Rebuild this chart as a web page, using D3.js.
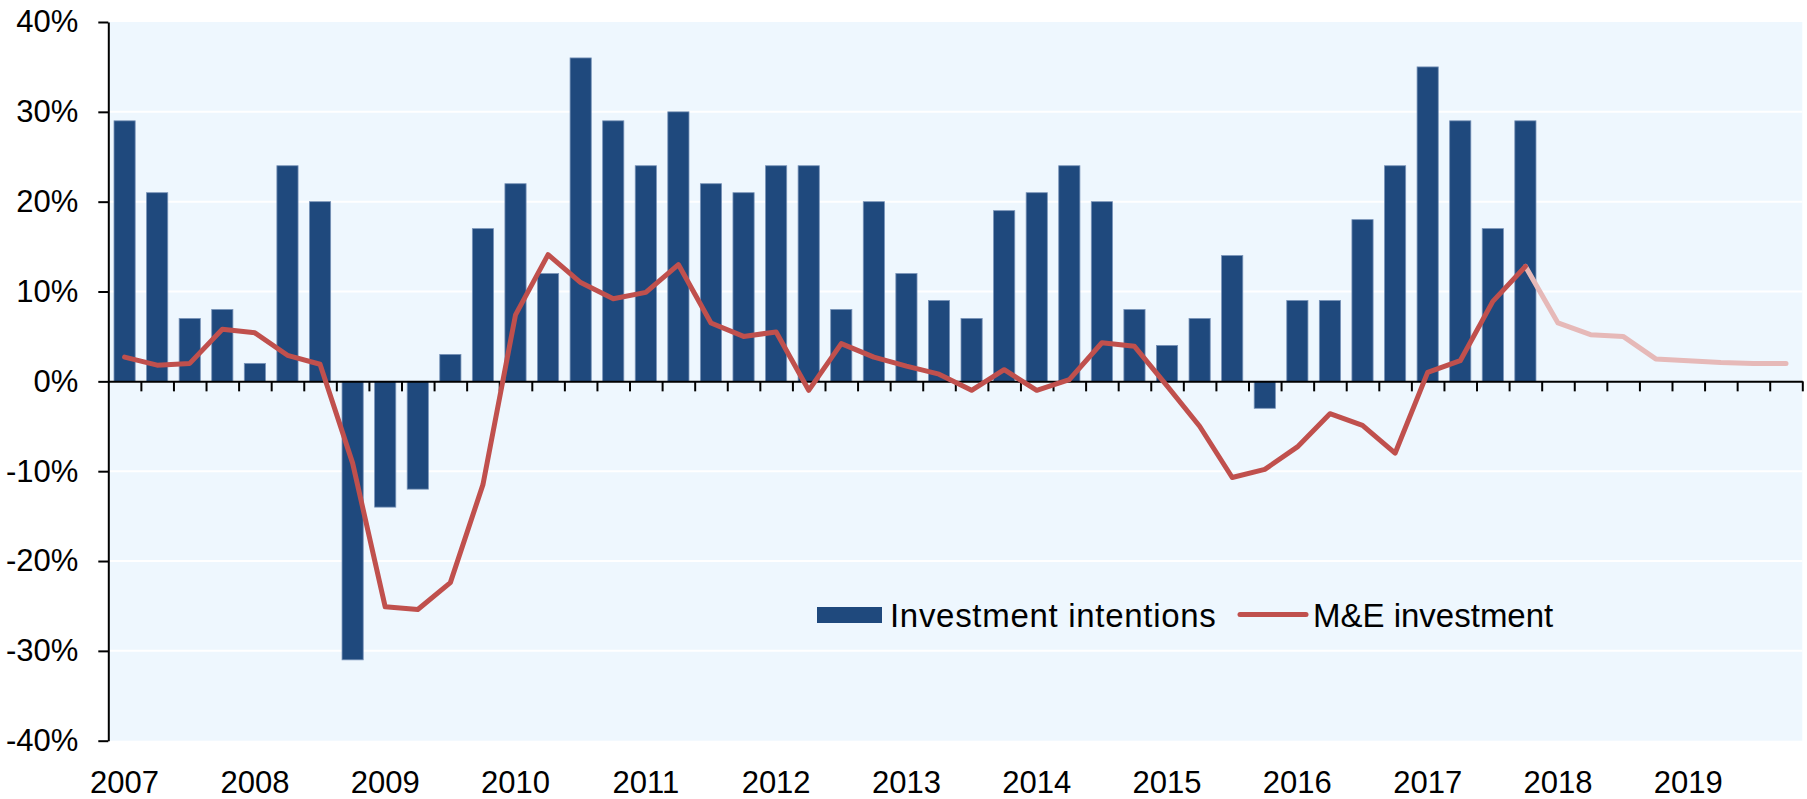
<!DOCTYPE html>
<html>
<head>
<meta charset="utf-8">
<script src="https://cdn.jsdelivr.net/npm/d3@7"></script>
<style>
  body { margin: 0; background: #fff; }
  text { font-family: "Liberation Sans", Arial, sans-serif; fill: #000; }
</style>
</head>
<body>
<div id="chart"></div>
<script>
// quarterly data, 2007Q1 .. 2019Q4
const years = d3.range(2007, 2020);
const quarters = years.flatMap(y => [1, 2, 3, 4].map(q => y + "Q" + q));

// investment intentions (bars), 2007Q1 .. 2017Q4
const intentions = [
  29, 21, 7, 8,
  2, 24, 20, -31,
  -14, -12, 3, 17,
  22, 12, 36, 29,
  24, 30, 22, 21,
  24, 24, 8, 20,
  12, 9, 7, 19,
  21, 24, 20, 8,
  4, 7, 14, -3,
  9, 9, 18, 24,
  35, 29, 17, 29
];

// M&E investment (line), actual 2007Q1 .. 2017Q4
const meActual = [
  2.7, 1.8, 2.0, 5.8,
  5.4, 2.9, 1.9, -9.1,
  -25.1, -25.4, -22.4, -11.5,
  7.4, 14.1, 11.0, 9.2,
  9.9, 13.0, 6.5, 5.0,
  5.5, -1.0, 4.2, 2.7,
  1.7, 0.8, -1.0, 1.3,
  -1.0, 0.2, 4.3, 3.9,
  -0.5, -5.0, -10.7, -9.8,
  -7.3, -3.6, -4.9, -8.0,
  1.0, 2.3, 8.9, 12.8
];
// forecast 2018Q1 .. 2019Q4
const meForecast = [6.5, 5.2, 5.0, 2.5, 2.3, 2.1, 2.0, 2.0];

const yTicks = [-40, -30, -20, -10, 0, 10, 20, 30, 40];

const width = 1807;
const height = 799;
const margin = {top: 22, left: 108.3, right: 4.7, bottom: 58.3};

const svg = d3.select("#chart")
  .append("svg")
  .attr("width", width)
  .attr("height", height);

const x = d3.scaleBand()
  .domain(quarters)
  .range([margin.left, width - margin.right])
  .paddingInner(0.35)
  .paddingOuter(0.175);

// quarter boundaries for tick marks
const xEdge = d3.scaleLinear()
  .domain([0, quarters.length])
  .range([margin.left, width - margin.right]);

const y = d3.scaleLinear()
  .domain([-40, 40])
  .range([height - margin.bottom, margin.top]);

// plot background
svg.append("rect")
  .attr("x", margin.left)
  .attr("y", margin.top)
  .attr("width", width - margin.right - margin.left)
  .attr("height", y(-40) - y(40))
  .attr("fill", "#eef7fe");

// grid lines
svg.append("g").selectAll("line")
  .data(yTicks.filter(d => d !== 0 && Math.abs(d) !== 40))
  .enter()
  .append("line")
  .attr("x1", margin.left)
  .attr("x2", width - margin.right)
  .attr("y1", d => y(d))
  .attr("y2", d => y(d))
  .style("stroke", "#ffffff")
  .style("stroke-width", 2);

// bars
svg.append("g").selectAll("rect")
  .data(intentions)
  .enter()
  .append("rect")
  .attr("x", (d, i) => x(quarters[i]))
  .attr("width", x.bandwidth())
  .attr("y", d => y(Math.max(0, d)))
  .attr("height", d => Math.abs(y(d) - y(0)))
  .attr("fill", "#1f497d")
  .attr("stroke", "#7893b8")
  .attr("stroke-width", 0.8);

// y axis
const yAxis = svg.append("g")
  .attr("transform", "translate(" + margin.left + ",0)")
  .call(d3.axisLeft(y)
    .tickValues(yTicks)
    .tickSize(10)
    .tickSizeOuter(0)
    .tickPadding(20)
    .tickFormat(d => d + "%"));
yAxis.selectAll("text").style("font-size", "31px");
yAxis.selectAll("line, path").style("stroke", "#000").style("stroke-width", 2);

// zero line with quarter ticks
const xAxis = svg.append("g")
  .attr("transform", "translate(0," + y(0) + ")")
  .call(d3.axisBottom(xEdge)
    .tickValues(d3.range(1, quarters.length + 1))
    .tickSize(10)
    .tickSizeOuter(0)
    .tickFormat(""));
xAxis.selectAll("line, path").style("stroke", "#000").style("stroke-width", 2);

// year labels at bottom, under first quarter
const yearAxis = svg.append("g")
  .attr("transform", "translate(0," + y(-40) + ")")
  .call(d3.axisBottom(x)
    .tickValues(years.map(yr => yr + "Q1"))
    .tickSize(0)
    .tickPadding(30)
    .tickFormat(d => d.slice(0, 4)));
yearAxis.select(".domain").remove();
yearAxis.selectAll("text").style("font-size", "31px");

// M&E line
const cx = i => x(quarters[i]) + x.bandwidth() / 2;
const line = d3.line()
  .x(d => cx(d.i))
  .y(d => y(d.v));

const actualPts = meActual.map((v, i) => ({i: i, v: v}));
const last = actualPts[actualPts.length - 1];
const forecastPts = [last].concat(meForecast.map((v, k) => ({i: last.i + 1 + k, v: v})));

svg.append("path")
  .datum(forecastPts)
  .attr("d", line)
  .attr("fill", "none")
  .style("stroke", "#e6b9b8")
  .style("stroke-width", 5)
  .style("stroke-linecap", "round")
  .style("stroke-linejoin", "round");

svg.append("path")
  .datum(actualPts)
  .attr("d", line)
  .attr("fill", "none")
  .style("stroke", "#c0504d")
  .style("stroke-width", 5)
  .style("stroke-linecap", "round")
  .style("stroke-linejoin", "round");

// legend
const legend = svg.append("g");
legend.append("rect")
  .attr("x", 817)
  .attr("y", 607)
  .attr("width", 65)
  .attr("height", 16)
  .attr("fill", "#1f497d");
legend.append("text")
  .attr("x", 890)
  .attr("y", 627)
  .style("font-size", "33px")
  .style("letter-spacing", "0.7px")
  .text("Investment intentions");
legend.append("line")
  .attr("x1", 1240)
  .attr("x2", 1306)
  .attr("y1", 614.5)
  .attr("y2", 614.5)
  .style("stroke", "#c0504d")
  .style("stroke-width", 5)
  .style("stroke-linecap", "round");
legend.append("text")
  .attr("x", 1313)
  .attr("y", 627)
  .style("font-size", "33px")
  .text("M&E investment");
</script>
</body>
</html>
